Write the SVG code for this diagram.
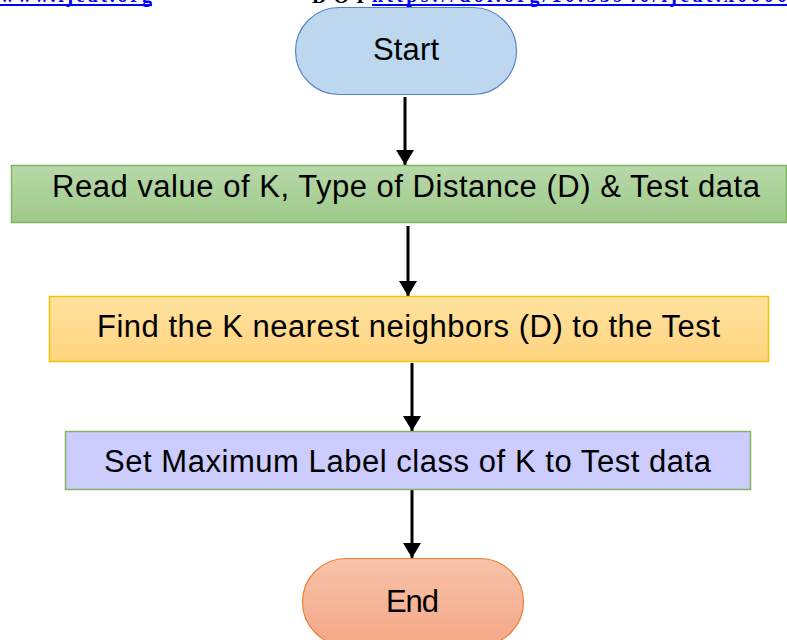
<svg xmlns="http://www.w3.org/2000/svg" width="787" height="640" viewBox="0 0 787 640">
<defs>
<style>
.t{font-family:"Liberation Sans",Arial,sans-serif;font-size:31px;fill:#000;text-anchor:middle}
.hd{font-family:"Liberation Serif","Times New Roman",serif;font-size:20px;font-weight:bold}
.conn{stroke:#000;stroke-width:3;fill:none}
</style>
<linearGradient id="gGreen" x1="0" y1="0" x2="0" y2="1"><stop offset="0" stop-color="#b8d8aa"/><stop offset="1" stop-color="#9dca88"/></linearGradient>
<linearGradient id="gYellow" x1="0" y1="0" x2="0" y2="1"><stop offset="0" stop-color="#ffe2a0"/><stop offset="1" stop-color="#ffd47e"/></linearGradient>
<linearGradient id="gOrange" x1="0" y1="0" x2="0" y2="1"><stop offset="0" stop-color="#f8c3aa"/><stop offset="1" stop-color="#f4a786"/></linearGradient>
<marker id="arr" markerWidth="5" markerHeight="6" refX="5" refY="3" orient="auto" markerUnits="strokeWidth">
<path d="M0,0 L5,3 L0,6 z" fill="#000"/>
</marker>
</defs>
<g id="header">
<text class="hd" x="0" y="2" fill="#0000ff" textLength="152">www.ijeat.org</text>
<line x1="0" y1="5" x2="152" y2="5" stroke="#0000ff" stroke-width="2"/>
<text class="hd" x="312" y="2.5" fill="#000" textLength="52">DOI</text>
<text class="hd" x="372" y="2" fill="#0000ff" textLength="415">https://doi.org/10.35940/ijeat.x0000</text>
<line x1="372" y1="5" x2="787" y2="5" stroke="#0000ff" stroke-width="2"/>
</g>
<g id="connectors">
<line class="conn" x1="405" y1="97" x2="405" y2="165" marker-end="url(#arr)"/>
<line class="conn" x1="408" y1="226" x2="408" y2="296" marker-end="url(#arr)"/>
<line class="conn" x1="412" y1="363" x2="412" y2="431" marker-end="url(#arr)"/>
<line class="conn" x1="412" y1="490" x2="412" y2="558" marker-end="url(#arr)"/>
</g>
<g id="start">
<rect x="295.5" y="7.5" width="221" height="87" rx="43.5" fill="#bdd7ee" stroke="#5b82c8" stroke-width="1.2"/>
<text class="t" x="406" y="60" textLength="66">Start</text>
</g>
<g id="read">
<rect x="11.5" y="165.5" width="775" height="57" fill="url(#gGreen)" stroke="#82b366" stroke-width="1.5"/>
<text class="t" x="406" y="197" textLength="708">Read value of K, Type of Distance (D) &amp; Test data</text>
</g>
<g id="find">
<rect x="49.5" y="296.5" width="719" height="65" fill="url(#gYellow)" stroke="#f5c000" stroke-width="1.5"/>
<text class="t" x="408.5" y="337" textLength="623">Find the K nearest neighbors (D) to the Test</text>
</g>
<g id="set">
<rect x="65.5" y="431.5" width="685" height="58" fill="#ccccff" stroke="#82b366" stroke-width="1.5"/>
<text class="t" x="407.5" y="472" textLength="607">Set Maximum Label class of K to Test data</text>
</g>
<g id="end">
<rect x="302.5" y="558.5" width="221" height="87" rx="43.5" fill="url(#gOrange)" stroke="#ed7d31" stroke-width="1.2"/>
<text class="t" x="412.5" y="612" textLength="53">End</text>
</g>
</svg>
